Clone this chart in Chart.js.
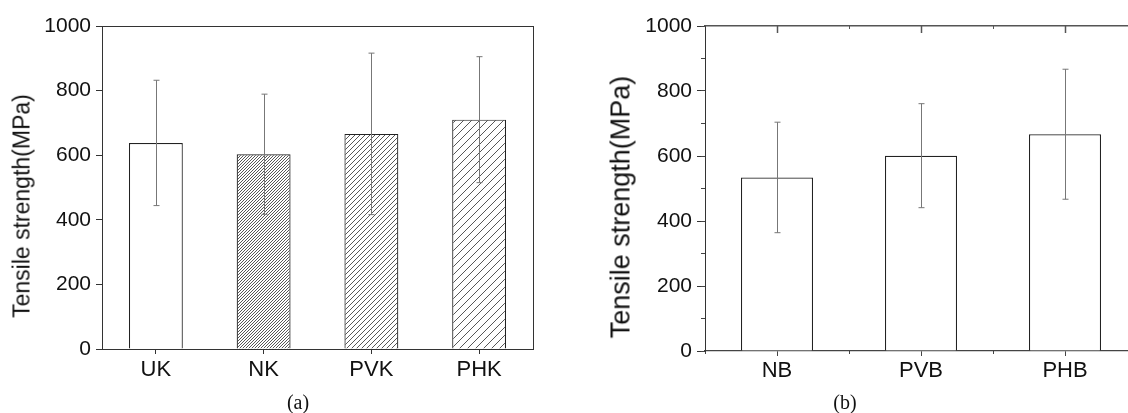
<!DOCTYPE html>
<html>
<head>
<meta charset="utf-8">
<script src="https://cdn.jsdelivr.net/npm/chart.js@4"></script>
<style>
  html, body { margin: 0; padding: 0; background: #fff; }
  body { width: 1128px; height: 413px; position: relative; overflow: hidden; }
  canvas { position: absolute; top: 0; }
  #chartA { left: 0; }
  #chartB { left: 560px; }
  .ytitle {
    position: absolute; white-space: nowrap; line-height: 1; color: #111;
    font-family: Arial, "Liberation Sans", sans-serif;
    transform: translate(-50%, -50%) rotate(-90deg);
  }
  .caption {
    position: absolute; white-space: nowrap; line-height: 1; color: #111;
    font-family: "Times New Roman", "Liberation Serif", serif; font-size: 20px;
    transform: translate(-50%, -50%);
  }
</style>
</head>
<body>
<canvas id="chartA" width="560" height="413"></canvas>
<canvas id="chartB" width="580" height="413"></canvas>
<div class="ytitle" style="left:22px; top:206px; font-size:23px;">Tensile strength(MPa)</div>
<div class="ytitle" style="left:621px; top:207px; font-size:27px;">Tensile strength(MPa)</div>
<div class="caption" style="left:298px; top:402px;">(a)</div>
<div class="caption" style="left:845px; top:402px;">(b)</div>
<script>
// (a) K series
const kLabels = ['UK', 'NK', 'PVK', 'PHK'];
const kValues = [638, 603, 666, 710];
const kErrors = [194, 186, 250, 195];

// (b) B series
const bLabels = ['NB', 'PVB', 'PHB'];
const bValues = [534, 601, 667];
const bErrors = [170, 160, 200];

// shared y axis
const yMin = 0;
const yMax = 1000;
const yMajorStep = 200;
const yMinorStep = 100;

Chart.defaults.font.family = 'Arial, "Liberation Sans", sans-serif';
Chart.defaults.color = '#111';

function makeHatch(step) {
  const c = document.createElement('canvas');
  c.width = step;
  c.height = step;
  const g = c.getContext('2d');
  g.fillStyle = '#fff';
  g.fillRect(0, 0, step, step);
  g.strokeStyle = '#444';
  g.lineWidth = 0.9;
  g.beginPath();
  g.moveTo(0, step); g.lineTo(step, 0);
  g.moveTo(-1, 1); g.lineTo(1, -1);
  g.moveTo(step - 1, step + 1); g.lineTo(step + 1, step - 1);
  g.stroke();
  return g.createPattern(c, 'repeat');
}

const fixW = w => scale => { scale.width = w; };
const fixH = h => scale => { scale.height = h; };
const plain = v => String(v);

const errorBars = {
  id: 'errorBars',
  afterDatasetsDraw(chart) {
    const ctx = chart.ctx;
    const yScale = chart.scales.y;
    const ds = chart.data.datasets[0];
    const meta = chart.getDatasetMeta(0);
    ctx.save();
    ctx.strokeStyle = '#777';
    ctx.lineWidth = 1;
    meta.data.forEach((bar, i) => {
      const v = ds.data[i];
      const e = ds.errors[i];
      const top = yScale.getPixelForValue(v + e);
      const bot = yScale.getPixelForValue(v - e);
      const x = Math.round(bar.x) + 0.5;
      ctx.beginPath();
      ctx.moveTo(x, top); ctx.lineTo(x, bot);
      ctx.moveTo(x - 3, top); ctx.lineTo(x + 3, top);
      ctx.moveTo(x - 3, bot); ctx.lineTo(x + 3, bot);
      ctx.stroke();
    });
    ctx.restore();
  }
};

const frame = { color: '#333', width: 1 };

new Chart(document.getElementById('chartA'), {
  type: 'bar',
  data: {
    labels: kLabels,
    datasets: [{
      data: kValues,
      errors: kErrors,
      xAxisID: 'x',
      yAxisID: 'y',
      backgroundColor: ['#fff', makeHatch(3), makeHatch(5), makeHatch(8)],
      borderColor: '#222',
      borderWidth: 1.2,
      barPercentage: 0.5,
      categoryPercentage: 1
    }]
  },
  options: {
    responsive: false,
    animation: false,
    events: [],
    layout: { padding: { left: 0, right: 27, top: 26, bottom: 0 } },
    plugins: { legend: { display: false }, tooltip: { enabled: false } },
    scales: {
      x: {
        type: 'category', position: 'bottom', offset: true,
        grid: { drawOnChartArea: false, offset: false, tickLength: 5, tickColor: '#333' },
        border: frame,
        ticks: { font: { size: 22 }, padding: 3, maxRotation: 0 },
        afterFit: fixH(64)
      },
      y: {
        type: 'linear', position: 'left', min: yMin, max: yMax,
        grid: { drawOnChartArea: false, tickLength: 6, tickColor: '#333' },
        border: frame,
        ticks: { stepSize: yMajorStep, font: { size: 21 }, padding: 5, callback: plain },
        afterFit: fixW(102)
      },
      xTop: {
        type: 'category', position: 'top', offset: true,
        grid: { display: false }, ticks: { display: false },
        border: frame,
        afterFit: fixH(0)
      },
      yRight: {
        type: 'linear', position: 'right', min: yMin, max: yMax,
        grid: { display: false }, ticks: { display: false },
        border: frame,
        afterFit: fixW(0)
      }
    }
  },
  plugins: [errorBars]
});

const frameB = { color: '#444', width: 1.3 };

new Chart(document.getElementById('chartB'), {
  type: 'bar',
  data: {
    labels: bLabels,
    datasets: [{
      data: bValues,
      errors: bErrors,
      xAxisID: 'x',
      yAxisID: 'y',
      backgroundColor: '#fff',
      borderColor: '#222',
      borderWidth: 1.2,
      barPercentage: 0.5,
      categoryPercentage: 1
    }]
  },
  options: {
    responsive: false,
    animation: false,
    events: [],
    layout: { padding: { left: 0, right: 3, top: 26, bottom: 0 } },
    plugins: { legend: { display: false }, tooltip: { enabled: false } },
    scales: {
      x: {
        type: 'category', position: 'bottom', offset: true, weight: 1,
        grid: { drawOnChartArea: false, offset: false, tickLength: 5, tickColor: '#444' },
        border: frameB,
        ticks: { font: { size: 22 }, padding: 2, maxRotation: 0 },
        afterFit: fixH(62)
      },
      xMinor: {
        type: 'category', position: 'bottom', offset: true, weight: 0,
        grid: { drawOnChartArea: false, offset: true, tickLength: 3, tickColor: '#444' },
        border: { display: false },
        ticks: { display: false },
        afterFit: fixH(0)
      },
      y: {
        type: 'linear', position: 'left', min: yMin, max: yMax, weight: 1,
        grid: { drawOnChartArea: false, tickLength: 8, tickColor: '#333' },
        border: { color: '#333', width: 1 },
        ticks: { stepSize: yMajorStep, font: { size: 21 }, padding: 5, callback: plain },
        afterFit: fixW(145)
      },
      yMinor: {
        type: 'linear', position: 'left', min: yMin, max: yMax, weight: 0,
        grid: { drawOnChartArea: false, tickLength: 4, tickColor: '#444' },
        border: { display: false },
        ticks: { stepSize: yMinorStep, display: false },
        afterFit: fixW(0)
      },
      xTop: {
        type: 'category', position: 'top', offset: true, weight: 0,
        grid: { drawOnChartArea: false, offset: false, tickLength: -7, tickColor: '#555', tickWidth: 1.5 },
        border: { color: '#555', width: 1.6 },
        ticks: { display: false },
        afterFit: fixH(0)
      },
      xTopMinor: {
        type: 'category', position: 'top', offset: true, weight: 0,
        grid: { drawOnChartArea: false, offset: true, tickLength: -3, tickColor: '#555' },
        border: { display: false },
        ticks: { display: false },
        afterFit: fixH(0)
      }
    }
  },
  plugins: [errorBars]
});
</script>
</body>
</html>
